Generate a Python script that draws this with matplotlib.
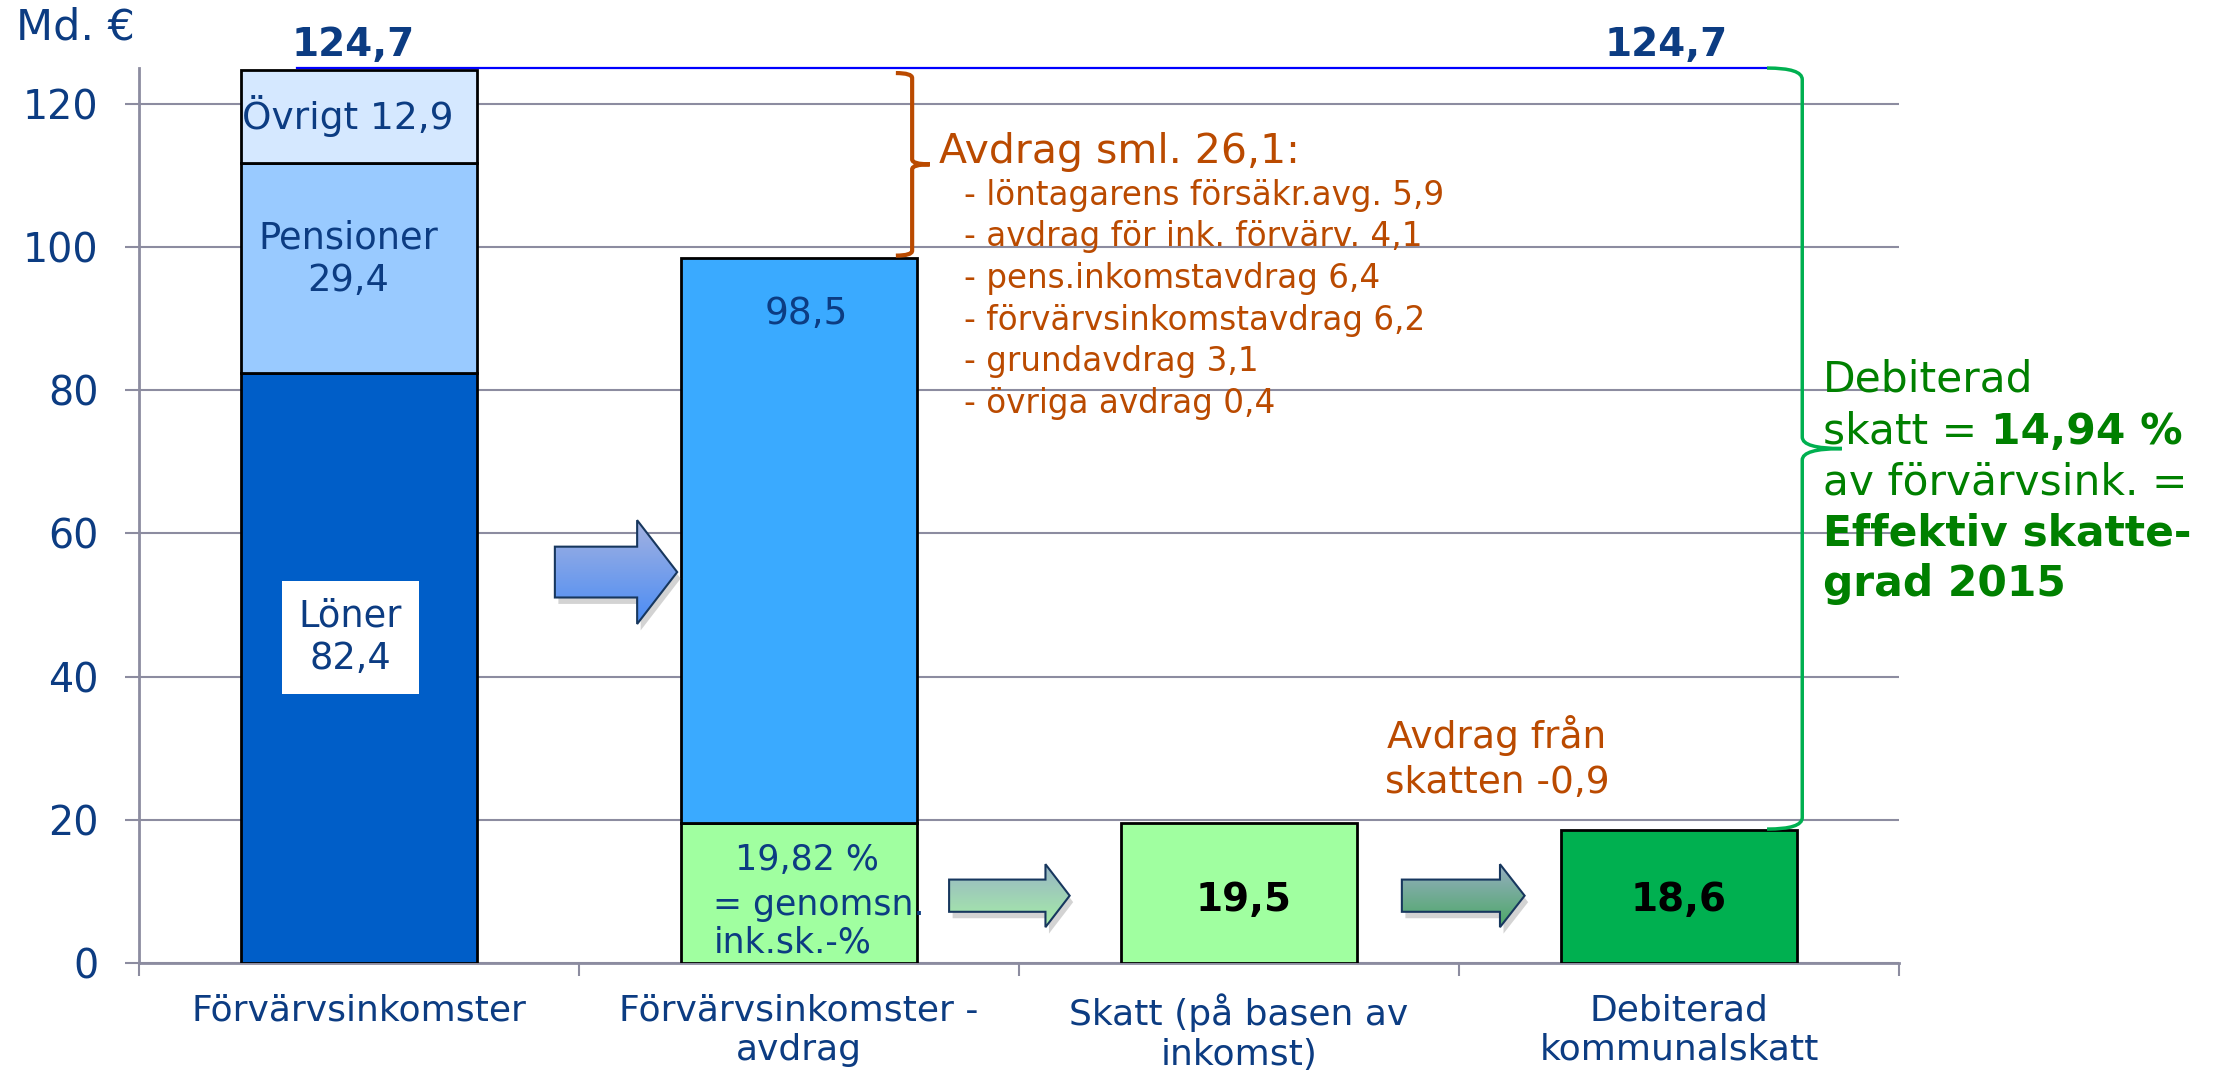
import numpy as np
import matplotlib
matplotlib.use('Agg')
import matplotlib.pyplot as plt
from matplotlib.patches import Polygon, PathPatch
from matplotlib.path import Path
from matplotlib.colors import LinearSegmentedColormap

plt.rcParams['font.family'] = ['DejaVu Sans']

# data (Md. €)
categories = ['Förvärvsinkomster', 'Förvärvsinkomster -\navdrag',
              'Skatt (på basen av\ninkomst)', 'Debiterad\nkommunalskatt']
income_names = ['Löner', 'Pensioner', 'Övrigt']
income_parts = [82.4, 29.4, 12.9]
total_income = 124.7
net_income = 98.5
tax_base = 19.5
tax_debited = 18.6
avg_rate = 19.82
eff_rate = 14.94
deduction_total = 26.1
deduction_names = ['löntagarens försäkr.avg.', 'avdrag för ink. förvärv.',
                   'pens.inkomstavdrag', 'förvärvsinkomstavdrag',
                   'grundavdrag', 'övriga avdrag']
deduction_values = [5.9, 4.1, 6.4, 6.2, 3.1, 0.4]
tax_deduction = -0.9
year = 2015

navy = '#0C3C82'
orange = '#BA4A00'
green_txt = '#008000'
grid_c = '#8C8CA0'


def fmt(v, d=1):
    return f"{v:.{d}f}".replace('.', ',')


def brace(ax, x_tip, x_line, x_mid, y_top, y_bot, color, lw, r=1.6):
    ym = (y_top + y_bot) / 2
    verts = [(x_tip, y_top), (x_line, y_top), (x_line, y_top - r),
             (x_line, ym + r), (x_line, ym), (x_mid, ym),
             (x_line, ym), (x_line, ym - r),
             (x_line, y_bot + r), (x_line, y_bot), (x_tip, y_bot)]
    codes = [Path.MOVETO, Path.CURVE3, Path.CURVE3, Path.LINETO,
             Path.CURVE3, Path.CURVE3, Path.CURVE3, Path.CURVE3,
             Path.LINETO, Path.CURVE3, Path.CURVE3]
    ax.add_patch(PathPatch(Path(verts, codes), fill=False, edgecolor=color,
                           lw=lw, zorder=6, clip_on=False))


def block_arrow(ax, x0, xh, x1, yc, body_h, head_h, c_top, c_bot):
    verts = [(x0, yc - body_h / 2), (xh, yc - body_h / 2), (xh, yc - head_h / 2),
             (x1, yc), (xh, yc + head_h / 2), (xh, yc + body_h / 2),
             (x0, yc + body_h / 2)]
    shadow = Polygon([(vx + 0.008, vy - 0.9) for vx, vy in verts], closed=True,
                     facecolor='#707070', edgecolor='none', alpha=0.3, zorder=4)
    ax.add_patch(shadow)
    patch = Polygon(verts, closed=True, facecolor='none', edgecolor='#17375E',
                    lw=1.5, zorder=6)
    ax.add_patch(patch)
    cmap = LinearSegmentedColormap.from_list('g', [c_bot, c_top])
    grad = np.linspace(0, 1, 256).reshape(-1, 1)
    im = ax.imshow(grad, cmap=cmap, origin='lower', aspect='auto',
                   extent=(x0, x1, yc - head_h / 2, yc + head_h / 2), zorder=5)
    im.set_clip_path(patch)


fig = plt.figure(figsize=(22.18, 10.75), dpi=100)
ax = fig.add_axes([0.0627, 0.1042, 0.7935, 0.8325])

x = np.arange(len(categories))
w = 0.536
bar_kw = dict(edgecolor='black', lw=2, zorder=3)

# stacked income bar
income_colors = ['#005EC8', '#99CAFF', '#D5E8FF']
bottoms = np.cumsum([0] + income_parts[:-1])
for part, b, c in zip(income_parts, bottoms, income_colors):
    ax.bar(x[0], part, w, bottom=b, color=c, **bar_kw)

ax.bar(x[1], tax_base, w, color='#A0FFA0', **bar_kw)
ax.bar(x[1], net_income - tax_base, w, bottom=tax_base, color='#3AAAFF', **bar_kw)
ax.bar(x[2], tax_base, w, color='#A0FFA0', **bar_kw)
ax.bar(x[3], tax_debited, w, color='#00B050', **bar_kw)

# labels inside income bar
ax.text(x[0] - 0.025, bottoms[2] + income_parts[2] / 2,
        f"{income_names[2]} {fmt(income_parts[2])}",
        ha='center', va='center', size=27, color=navy, zorder=7)
ax.text(x[0] - 0.025, bottoms[1] + income_parts[1] / 2 + 1.2,
        f"{income_names[1]}\n{fmt(income_parts[1])}",
        ha='center', va='center', size=26.5, color=navy, zorder=7)
ax.text(x[0] - 0.02, 45.5, f"{income_names[0]}\n{fmt(income_parts[0])}",
        ha='center', va='center', size=26.5, color=navy, zorder=7,
        bbox=dict(boxstyle='square,pad=0.45', facecolor='white', edgecolor='none'))

ax.text(x[1] + 0.016, 90.7, fmt(net_income), ha='center', va='center',
        size=27, color=navy, zorder=7)
ax.text(x[1] + 0.018, 14.4, f"{fmt(avg_rate, 2)} %", ha='center', va='center',
        size=25, color=navy, zorder=7)
ax.text(x[1] - 0.195, 8.1, "= genomsn.", ha='left', va='center',
        size=25, color=navy, zorder=7)
ax.text(x[1] - 0.195, 2.8, "ink.sk.-%", ha='left', va='center',
        size=25, color=navy, zorder=7)

ax.text(x[2] + 0.01, 8.8, fmt(tax_base), ha='center', va='center',
        size=28, weight='bold', color='black', zorder=7)
ax.text(x[3], 8.8, fmt(tax_debited), ha='center', va='center',
        size=28, weight='bold', color='black', zorder=7)

# totals and connecting line
ax.text(x[0] - 0.014, total_income + 3.5, fmt(total_income), ha='center',
        va='center', size=28, weight='bold', color=navy)
ax.text(x[3] - 0.03, total_income + 3.5, fmt(total_income), ha='center',
        va='center', size=28, weight='bold', color=navy)
ax.plot([-0.14, 3.20], [total_income + 0.3, total_income + 0.3], color='#0000FF',
        lw=1.6, zorder=5, clip_on=False)

# deductions brace + text
brace(ax, 1.220, 1.257, 1.297, total_income - 0.4, net_income + 0.3, orange, 3,
      r=0.7)
ax.text(1.318, 111.8, f"Avdrag sml. {fmt(deduction_total)}:", ha='left',
        va='baseline', size=29.5, color=orange)
for i, (n, v) in enumerate(zip(deduction_names, deduction_values)):
    ax.text(1.375, 105.9 - i * 5.82, f"- {n} {fmt(v)}", ha='left',
            va='baseline', size=23.5, color=orange)

ax.text(2.586, 28.6, f"Avdrag från\nskatten {fmt(tax_deduction)}", ha='center',
        va='center', size=27, color=orange, linespacing=1.33)

# effective tax brace + text
brace(ax, 3.20, 3.28, 3.37, total_income + 0.3, tax_debited + 0.1, '#00B050', 2.5)
gx = 3.327
gs = 30.5
ax.text(gx, 79.8, "Debiterad", ha='left', va='baseline', size=gs, color=green_txt)
t = ax.text(gx, 72.5, "skatt = ", ha='left', va='baseline', size=gs, color=green_txt)
ax.annotate(f"{fmt(eff_rate, 2)} %", xy=(1, 0), xycoords=t, ha='left', va='bottom',
            size=gs, weight='bold', color=green_txt)
ax.text(gx, 65.5, "av förvärvsink. =", ha='left', va='baseline', size=gs,
        color=green_txt)
ax.text(gx, 58.3, "Effektiv skatte-", ha='left', va='baseline', size=gs,
        weight='bold', color=green_txt)
ax.text(gx, 51.3, f"grad {year}", ha='left', va='baseline', size=gs,
        weight='bold', color=green_txt)

# arrows
block_arrow(ax, 0.445, 0.632, 0.723, 54.6, 7.1, 14.5, '#A4B2E0', '#4A8CF5')
block_arrow(ax, 1.341, 1.560, 1.615, 9.4, 4.5, 8.8, '#98B4C6', '#A6EEA6')
block_arrow(ax, 2.370, 2.593, 2.649, 9.4, 4.5, 8.8, '#98AEC4', '#4CA866')

# axes styling
ax.set_xlim(-0.5, 3.5)
ax.set_ylim(0, 125)
ax.set_yticks(np.arange(0, 121, 20))
ax.yaxis.grid(True, color=grid_c, lw=1.5)
ax.set_axisbelow(True)
for s in ['top', 'right']:
    ax.spines[s].set_visible(False)
for s in ['left', 'bottom']:
    ax.spines[s].set_color(grid_c)
    ax.spines[s].set_linewidth(2)
ax.tick_params(axis='y', length=10, width=1.5, color=grid_c, pad=19,
               labelsize=28.5, labelcolor=navy)
ax.set_xticks([-0.5, 0.5, 1.5, 2.5, 3.5])
ax.set_xticklabels([])
ax.set_xticks(x, minor=True)
ax.set_xticklabels(categories, minor=True)
ax.tick_params(axis='x', which='major', length=9, width=1.5, color=grid_c)
ax.tick_params(axis='x', which='minor', length=0, pad=22, labelsize=26,
               labelcolor=navy)

fig.text(16 / 2218, 1 - 28 / 1075, "Md. €", ha='left', va='center', size=31,
         color=navy)

fig.savefig('out.png', dpi=100)
